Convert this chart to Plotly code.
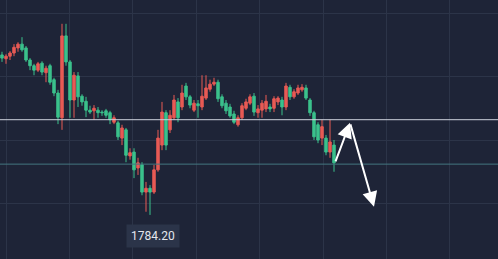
import plotly.graph_objects as go

# ---- data ----
idx = list(range(84))
open_ = [1809.4, 1808.8, 1809.2, 1809.7, 1810.5, 1811.1, 1810.5, 1808.6, 1807.7, 1807.0,
         1808.1, 1806.6, 1807.7, 1805.5, 1803.4, 1799.5, 1812.4, 1808.3, 1802.3, 1806.1,
         1802.9, 1802.1, 1800.7, 1800.6, 1800.7, 1800.4, 1800.6, 1800.3, 1798.8, 1798.7,
         1796.3, 1797.6, 1793.5, 1794.1, 1791.6, 1792.1, 1787.8, 1788.4, 1787.8, 1791.3,
         1795.2, 1800.3, 1797.6, 1799.5, 1802.0, 1801.2, 1804.5, 1802.8, 1800.7, 1801.7,
         1801.2, 1802.6, 1804.0, 1804.8, 1805.1, 1802.8, 1801.8, 1801.2, 1800.1, 1798.4,
         1799.5, 1801.0, 1801.8, 1802.9, 1800.3, 1800.7, 1800.9, 1801.2, 1801.0, 1802.0,
         1802.3, 1801.2, 1804.3, 1802.8, 1803.4, 1803.9, 1804.2, 1802.3, 1800.3, 1798.4,
         1796.3, 1796.3, 1794.1, 1795.2]
high_ = [1809.9, 1809.5, 1810.0, 1811.1, 1811.4, 1812.2, 1810.8, 1808.9, 1808.0, 1808.3,
         1808.4, 1807.7, 1808.0, 1805.8, 1803.9, 1814.3, 1814.3, 1808.6, 1806.7, 1806.7,
         1803.2, 1802.8, 1801.4, 1801.5, 1801.2, 1800.7, 1800.9, 1800.6, 1799.9, 1799.0,
         1798.4, 1797.9, 1794.7, 1794.7, 1793.2, 1792.5, 1789.4, 1788.9, 1792.1, 1797.6,
         1802.0, 1800.7, 1800.7, 1803.1, 1802.6, 1804.7, 1805.0, 1803.1, 1802.3, 1802.3,
         1806.2, 1806.2, 1805.5, 1805.8, 1805.5, 1803.2, 1802.3, 1801.7, 1800.6, 1799.9,
         1801.8, 1802.5, 1803.2, 1803.4, 1801.5, 1802.3, 1803.1, 1801.7, 1802.9, 1802.9,
         1802.8, 1805.0, 1804.7, 1804.0, 1804.7, 1804.8, 1804.7, 1802.6, 1800.6, 1798.8,
         1799.2, 1796.8, 1799.2, 1796.0]
low_ = [1808.3, 1808.0, 1808.6, 1809.2, 1809.9, 1809.9, 1808.3, 1807.0, 1806.2, 1806.7,
        1806.2, 1805.1, 1804.7, 1802.9, 1798.5, 1797.6, 1807.7, 1799.5, 1799.5, 1801.2,
        1801.4, 1799.6, 1800.1, 1799.2, 1799.5, 1799.8, 1799.5, 1798.5, 1798.5, 1796.0,
        1795.2, 1792.5, 1792.9, 1790.0, 1790.5, 1787.3, 1784.7, 1784.2, 1787.5, 1791.0,
        1794.4, 1794.4, 1797.1, 1799.2, 1798.8, 1800.7, 1802.3, 1801.0, 1800.4, 1799.5,
        1800.7, 1802.3, 1803.6, 1804.5, 1802.0, 1801.0, 1800.1, 1799.5, 1798.5, 1798.1,
        1799.2, 1800.7, 1801.5, 1799.8, 1799.5, 1799.5, 1800.4, 1800.4, 1800.4, 1801.5,
        1799.9, 1800.7, 1802.3, 1802.5, 1803.1, 1803.6, 1802.3, 1799.8, 1796.0, 1795.5,
        1795.2, 1793.6, 1793.2, 1791.0]
close_ = [1808.9, 1809.2, 1809.7, 1810.6, 1811.1, 1810.2, 1808.6, 1807.7, 1807.0, 1808.0,
          1806.7, 1807.3, 1805.1, 1803.4, 1799.6, 1812.4, 1808.3, 1802.3, 1806.2, 1802.8,
          1802.0, 1800.7, 1800.4, 1801.0, 1800.3, 1800.3, 1799.9, 1799.2, 1799.5, 1796.5,
          1797.9, 1793.6, 1794.0, 1791.3, 1792.4, 1787.8, 1788.4, 1787.8, 1791.3, 1796.3,
          1800.4, 1795.2, 1799.9, 1802.3, 1799.5, 1803.4, 1802.8, 1801.5, 1801.8, 1801.4,
          1802.9, 1804.2, 1804.8, 1805.1, 1802.5, 1801.4, 1800.6, 1799.8, 1798.8, 1799.5,
          1801.4, 1802.0, 1802.8, 1800.4, 1800.9, 1801.8, 1802.1, 1800.9, 1802.5, 1802.6,
          1801.2, 1804.5, 1802.8, 1803.6, 1804.2, 1804.3, 1802.6, 1800.3, 1796.5, 1796.0,
          1798.1, 1794.1, 1795.7, 1792.4]

resistance_level = 1799.2
support_level = 1792.2
low_label = "1784.20"
low_index = 37
low_value = 1784.20
forecast_x = [83.25, 87, 93]
forecast_y = [1792.4, 1798.7, 1785.5]

BG = "#1e2437"
GRID = "#2c3448"
UP = "#e85a55"
DOWN = "#3bc18c"

fig = go.Figure()
fig.add_trace(go.Candlestick(
    x=idx, open=open_, high=high_, low=low_, close=close_,
    increasing=dict(line=dict(color=UP, width=1), fillcolor=UP),
    decreasing=dict(line=dict(color=DOWN, width=1), fillcolor=DOWN),
    whiskerwidth=0, hoverinfo="skip", showlegend=False,
))

fig.add_hline(y=resistance_level, line=dict(color="rgba(205,210,220,0.8)", width=1.3), layer="above")
fig.add_hline(y=support_level, line=dict(color="#437780", width=1), layer="above")

# forecast arrows
for k in range(len(forecast_x) - 1):
    fig.add_annotation(
        x=forecast_x[k + 1], y=forecast_y[k + 1],
        ax=forecast_x[k], ay=forecast_y[k],
        xref="x", yref="y", axref="x", ayref="y",
        showarrow=True, arrowhead=2, arrowsize=1.5, arrowwidth=2,
        arrowcolor="white", text="",
    )

# low label
fig.add_annotation(
    x=low_index + 0.7, y=low_value, xref="x", yref="y",
    yshift=-21, showarrow=False, text=low_label,
    font=dict(family="Roboto, Arial", size=12, color="#e4e7ee"),
    bgcolor="#2b3449", borderpad=4,
)

fig.update_layout(
    width=498, height=259,
    margin=dict(l=0, r=0, t=0, b=0),
    paper_bgcolor=BG, plot_bgcolor=BG,
    showlegend=False, hovermode=False, boxgap=0.12,
    xaxis=dict(range=[-0.5, 124], showticklabels=False, showgrid=True,
               gridcolor=GRID, gridwidth=1, tick0=1, dtick=15.85,
               zeroline=False, rangeslider=dict(visible=False), fixedrange=True),
    yaxis=dict(range=[1777.26, 1818.05], showticklabels=False, showgrid=True,
               gridcolor=GRID, gridwidth=1, tick0=1786, dtick=10,
               zeroline=False, fixedrange=True),
)

fig.write_html("out.html", config={"displayModeBar": False})
